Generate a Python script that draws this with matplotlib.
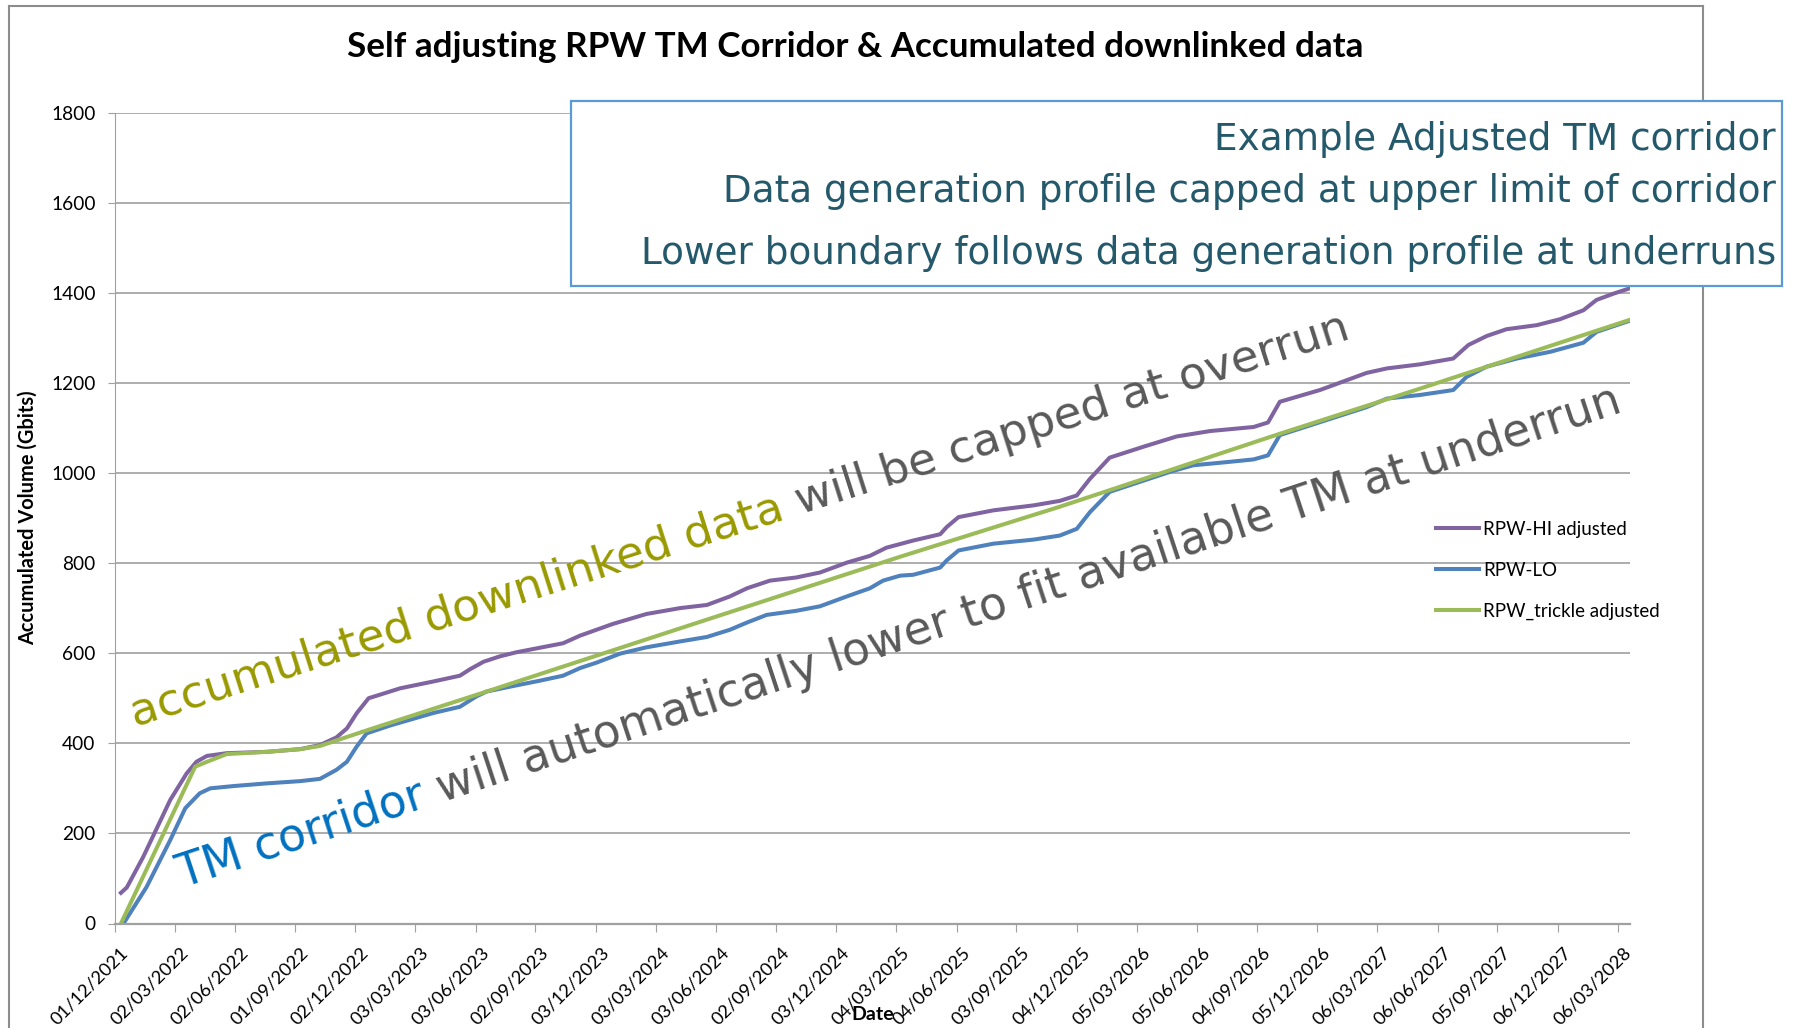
import numpy as np
import pandas as pd
import matplotlib
matplotlib.use('Agg')
import matplotlib.pyplot as plt
from matplotlib.transforms import IdentityTransform, ScaledTranslation
from matplotlib.patches import Rectangle
from matplotlib.lines import Line2D

# data (days since 01/12/2021, Gbits)
hi_days = [9, 18, 43, 84, 109, 124, 140, 170, 231, 282, 312, 337, 353, 368, 386, 408, 434, 484, 525, 540,
           561, 586, 611, 682, 708, 758, 809, 860, 901, 936, 962, 997, 1037, 1073, 1114, 1149, 1174, 1215,
           1256, 1266, 1284, 1337, 1398, 1438, 1464, 1484, 1514, 1565, 1616, 1667, 1733, 1755, 1773, 1834,
           1905, 1936, 1986, 2037, 2060, 2088, 2118, 2164, 2199, 2235, 2255, 2281, 2306]
hi_vals = [68, 80, 148, 274, 333, 359, 372, 378, 381, 387, 396, 413, 433, 467, 500, 510, 522, 537, 550, 564,
           581, 593, 602, 622, 639, 665, 687, 700, 707, 726, 744, 761, 768, 779, 801, 816, 834, 850,
           864, 880, 902, 917, 928, 938, 950, 987, 1034, 1058, 1081, 1093, 1102, 1112, 1158, 1184,
           1222, 1232, 1241, 1254, 1284, 1304, 1319, 1328, 1341, 1361, 1384, 1398, 1410]

lo_days = [13, 48, 84, 107, 129, 145, 180, 231, 282, 312, 337, 353, 368, 383, 420, 484, 525, 550, 566, 616,
           647, 682, 708, 733, 769, 809, 860, 901, 936, 962, 992, 1037, 1073, 1114, 1149, 1169, 1195, 1215,
           1256, 1266, 1284, 1337, 1398, 1438, 1464, 1484, 1514, 1607, 1641, 1692, 1733, 1755, 1773, 1905,
           1936, 1986, 2037, 2057, 2088, 2134, 2185, 2235, 2255, 2306]
lo_vals = [0, 81, 185, 256, 289, 300, 305, 311, 316, 321, 341, 359, 393, 422, 440, 467, 481, 504, 515, 530,
           539, 550, 567, 579, 599, 613, 626, 636, 652, 668, 685, 694, 704, 726, 744, 761, 772, 774,
           790, 806, 828, 843, 852, 861, 876, 913, 958, 1003, 1017, 1024, 1030, 1039, 1084, 1146,
           1165, 1173, 1184, 1213, 1236, 1254, 1269, 1289, 1313, 1338]

tr_days = [9, 122, 140, 170, 231, 282, 312, 388, 566, 860, 1195, 1438, 1773, 1986, 2306]
tr_vals = [0, 348, 359, 376, 381, 387, 394, 431, 515, 655, 814, 925, 1087, 1187, 1340]

tick_labels = ['01/12/2021', '02/03/2022', '02/06/2022', '01/09/2022', '02/12/2022', '03/03/2023',
               '03/06/2023', '02/09/2023', '03/12/2023', '03/03/2024', '03/06/2024', '02/09/2024',
               '03/12/2024', '04/03/2025', '04/06/2025', '03/09/2025', '04/12/2025', '05/03/2026',
               '05/06/2026', '04/09/2026', '05/12/2026', '06/03/2027', '06/06/2027', '05/09/2027',
               '06/12/2027', '06/03/2028']

start = pd.Timestamp('2021-12-01')
tick_pos = (pd.to_datetime(tick_labels, format='%d/%m/%Y') - start).days

W, H = 1797, 1028
fig = plt.figure(figsize=(W / 100, H / 100), dpi=100)
ax = fig.add_axes([115 / W, 1 - 923.5 / H, (1630 - 115) / W, (923.5 - 112.5) / H])

ax.plot(hi_days, hi_vals, color='#8064A2', lw=2.9, label='RPW-HI adjusted')
ax.plot(lo_days, lo_vals, color='#4F81BD', lw=2.9, label='RPW-LO')
ax.plot(tr_days, tr_vals, color='#9BBB59', lw=2.9, label='RPW_trickle adjusted')

ax.set_xlim(0, 2306)
ax.set_ylim(0, 1800)
ax.set_yticks(np.arange(0, 1801, 200))
ax.set_xticks(tick_pos)
ax.set_xticklabels(tick_labels, rotation=45, ha='right', va='top', rotation_mode='anchor',
                   fontfamily='Lato', fontsize=13.2)
for lab in ax.get_yticklabels():
    lab.set_fontfamily('Lato')
    lab.set_fontsize(13.8)
ax.grid(axis='y', color='#A0A0A0', lw=1.2)
ax.set_axisbelow(True)
for s in ['top', 'right']:
    ax.spines[s].set_visible(False)
ax.spines['left'].set_color('#A0A0A0')
ax.spines['bottom'].set_color('#A0A0A0')
ax.spines['bottom'].set_linewidth(1.6)
ax.tick_params(axis='x', length=6, color='#A0A0A0', pad=9)
ax.tick_params(axis='y', length=5, color='#A0A0A0', pad=9)
off = ScaledTranslation(5 / 100, 0, fig.dpi_scale_trans)
for lab in ax.get_xticklabels():
    lab.set_transform(lab.get_transform() + off)

ax.set_xlabel('Date', fontfamily='Lato', fontweight='bold', fontsize=14)
ax.xaxis.set_label_coords(0.5, -0.102)
ax.set_ylabel('Accumulated Volume (Gbits)', fontfamily='Lato', fontweight='bold', fontsize=14.4)
ax.yaxis.set_label_coords(-0.051, 0.5)

leg = ax.legend(loc='upper left', bbox_to_anchor=(1436, H - 521), bbox_transform=IdentityTransform(),
                frameon=False, prop={'family': 'Lato', 'size': 13.5}, handlelength=2.3,
                handletextpad=0.2, labelspacing=1.26, borderpad=0, borderaxespad=0)

fig.text(855 / W, 1 - 47 / H, 'Self adjusting RPW TM Corridor & Accumulated downlinked data',
         ha='center', va='center', fontfamily='Lato', fontweight='bold', fontsize=25.2)

# chart border
for xs, ys in [([9, 9], [0, H - 6]), ([9, 1703], [H - 6, H - 6]), ([1703, 1703], [0, H - 6])]:
    fig.add_artist(Line2D(xs, ys, transform=IdentityTransform(), color='#8C8C8C', lw=1.5))

# notes box
fig.add_artist(Rectangle((571, H - 286), 1782 - 571, 286 - 101, transform=IdentityTransform(),
                         facecolor='white', edgecolor='#5B9BD5', lw=1.6, zorder=5))
box_lines = ['Example Adjusted TM corridor',
             'Data generation profile capped at upper limit of corridor',
             'Lower boundary follows data generation profile at underruns']
for txt, yc in zip(box_lines, [139, 192, 254]):
    fig.text(1776, H - yc, txt, transform=IdentityTransform(), ha='right', va='center',
             color='#24596B', fontsize=26.9, zorder=6)


def two_tone(x0, y0, angle, parts, size):
    r = fig.canvas.get_renderer()
    ca, sa = np.cos(np.radians(angle)), np.sin(np.radians(angle))

    def width(s):
        t = fig.text(0, 0, s, fontsize=size, transform=IdentityTransform())
        w = t.get_window_extent(r).width
        t.remove()
        return w

    w_bar = width('|')
    prefix = ''
    for txt, col in parts:
        d = width(prefix + '|') - w_bar if prefix else 0
        fig.text(x0 + d * ca, y0 + d * sa, txt, transform=IdentityTransform(), rotation=angle,
                 rotation_mode='anchor', ha='left', va='baseline', color=col, fontsize=size, zorder=4)
        prefix += txt


two_tone(135, H - 727, 17.7, [('accumulated downlinked data ', '#999900'),
                              ('will be capped at overrun', '#595959')], 32.7)
two_tone(182, H - 888, 18.3, [('TM corridor ', '#0070C0'),
                              ('will automatically lower to fit available TM at underrun', '#595959')], 32.8)

fig.savefig('out.png', dpi=100)
